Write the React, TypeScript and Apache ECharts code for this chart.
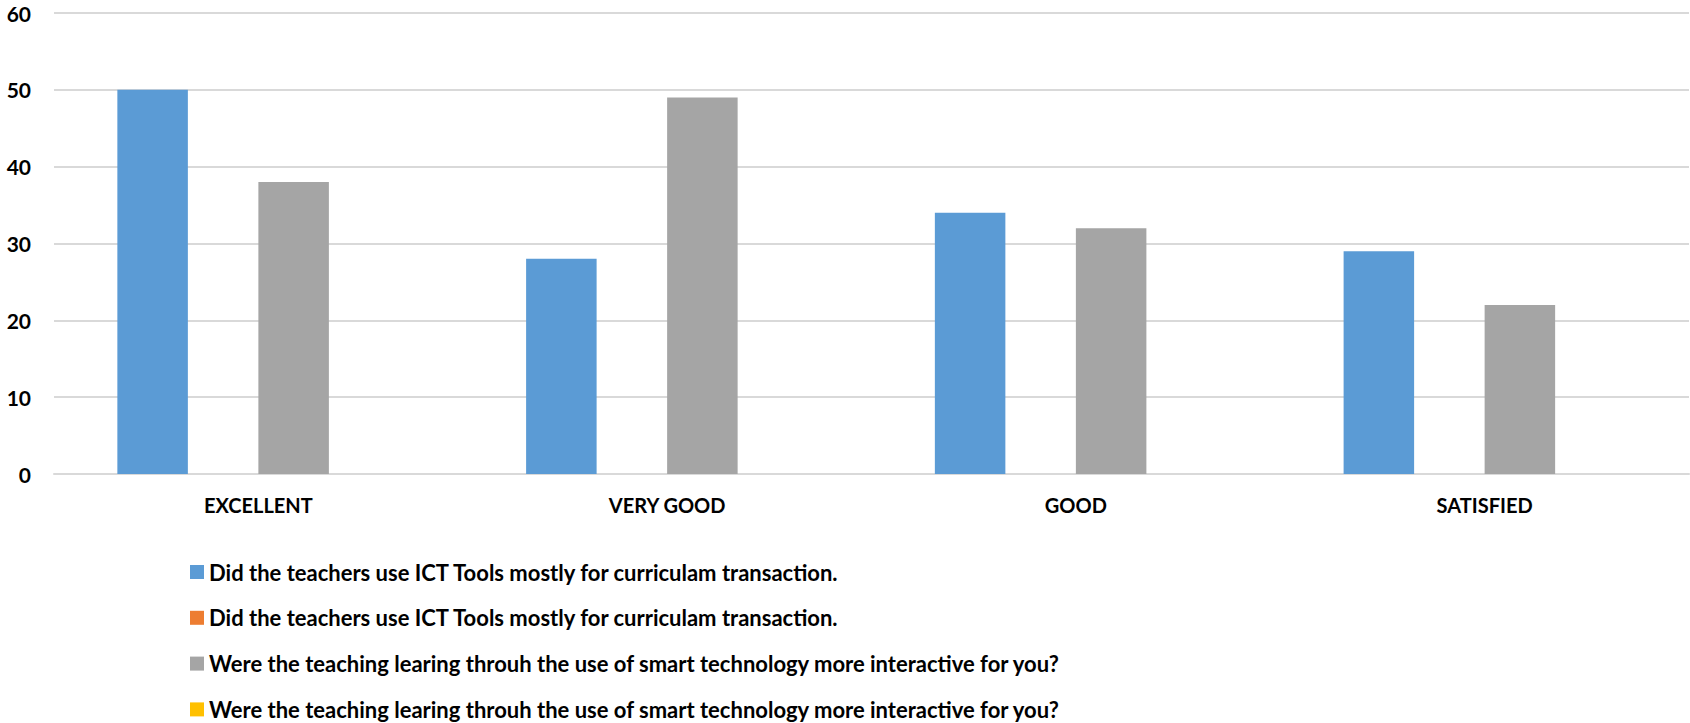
import React, { useEffect, useRef } from "react";
import * as echarts from "echarts";

const categories = ["EXCELLENT", "VERY GOOD", "GOOD", "SATISFIED"];
const seriesLabels = [
  "Did the teachers use ICT Tools mostly for curriculam transaction.",
  "Did the teachers use ICT Tools mostly for curriculam transaction.",
  "Were the teaching learing throuh the use of smart technology more interactive for you?",
  "Were the teaching learing throuh the use of smart technology more interactive for you?",
];
const seriesKeys = ["s1", "s2", "s3", "s4"];
const seriesColors = ["#5b9bd5", "#ed7d31", "#a5a5a5", "#ffc000"];
const ictValues = [50, 28, 34, 29];
const ictValues2: (number | null)[] = [null, null, null, null];
const smartValues = [38, 49, 32, 22];
const smartValues2: (number | null)[] = [null, null, null, null];
const yTicks = { min: 0, max: 60, interval: 10 };

export default function App() {
  const ref = useRef<HTMLDivElement>(null);
  useEffect(() => {
    if (!ref.current) return;
    const chart = echarts.init(ref.current, null, { renderer: "svg" });
    const datas = [ictValues, ictValues2, smartValues, smartValues2];
    const font = "Lato, 'Open Sans', sans-serif";
    chart.setOption({
      animation: false,
      grid: { left: 54, right: 1, top: 13, bottom: 249, containLabel: false },
      xAxis: {
        type: "category",
        data: categories,
        axisTick: { show: false },
        axisLine: { lineStyle: { color: "#d9d9d9", width: 2 } },
        axisLabel: {
          color: "#000",
          fontSize: 20,
          fontWeight: "bold",
          fontFamily: font,
          margin: 21,
        },
      },
      yAxis: {
        type: "value",
        min: yTicks.min,
        max: yTicks.max,
        interval: yTicks.interval,
        axisLine: { show: false },
        axisTick: { show: false },
        splitLine: { lineStyle: { color: "#d9d9d9", width: 2 } },
        axisLabel: {
          color: "#000",
          fontSize: 21,
          fontWeight: "bold",
          fontFamily: font,
          margin: 23,
        },
      },
      legend: {
        orient: "vertical",
        left: 190,
        top: 561,
        height: 220,
        padding: 0,
        itemWidth: 14,
        itemHeight: 14,
        itemGap: 23.8,
        icon: "rect",
        data: seriesKeys,
        formatter: (name: string) => seriesLabels[seriesKeys.indexOf(name)],
        textStyle: {
          color: "#000",
          fontSize: 22,
          fontWeight: "bold",
          fontFamily: font,
          lineHeight: 14,
          padding: [0, 0, 0, 0],
        },
      },
      series: seriesKeys.map((k, i) => ({
        name: k,
        type: "bar",
        data: datas[i],
        barGap: "0%",
        barCategoryGap: "31%",
        itemStyle: { color: seriesColors[i] },
      })),
    });
    return () => chart.dispose();
  }, []);
  return (
    <div
      ref={ref}
      style={{ position: "fixed", left: 0, top: 0, width: 1690, height: 723, background: "#fff" }}
    />
  );
}
